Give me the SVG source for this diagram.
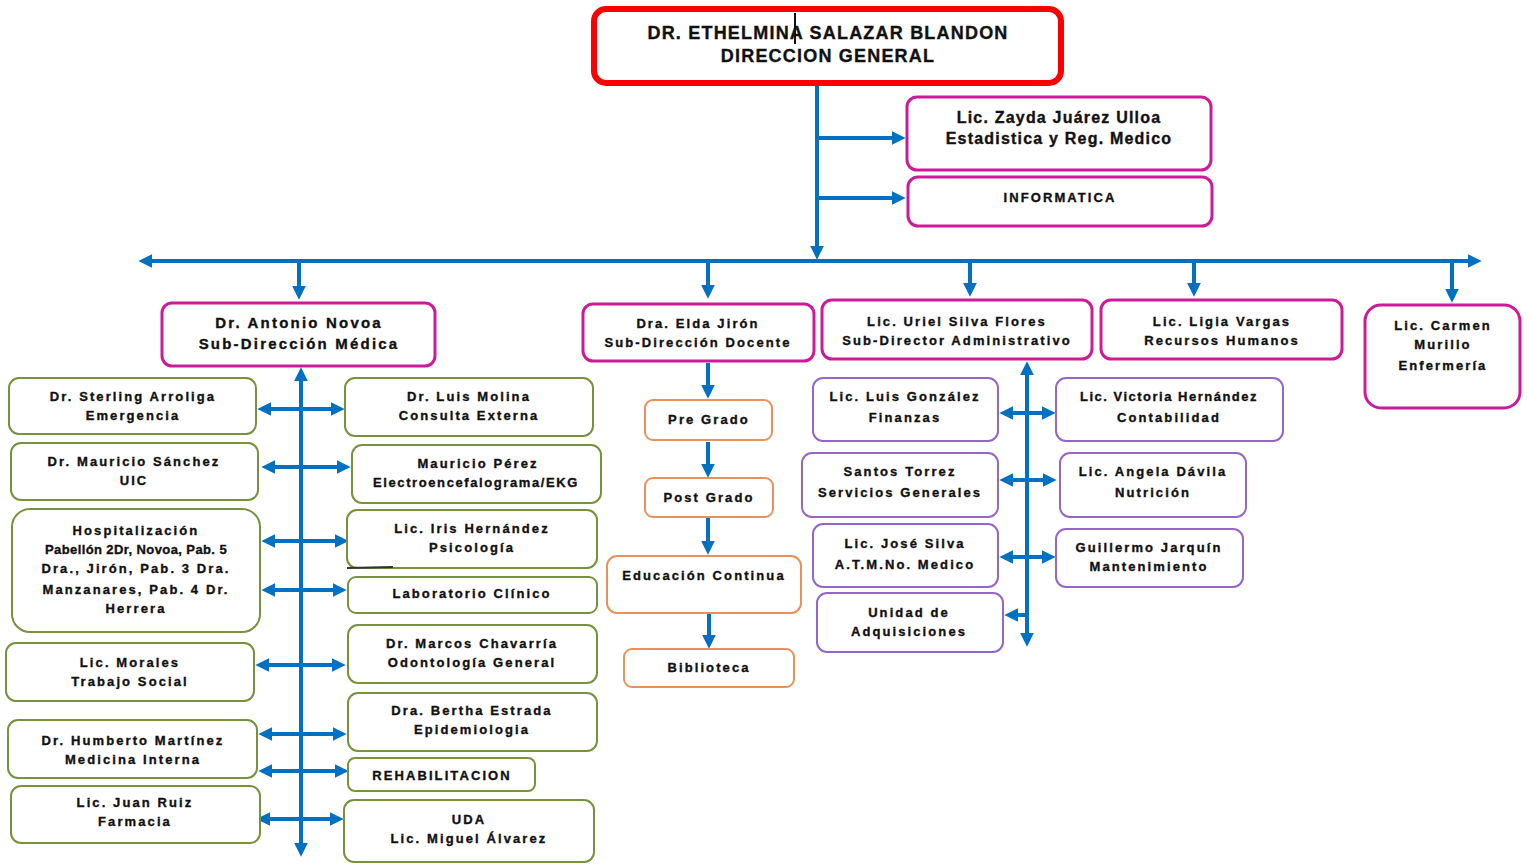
<svg xmlns="http://www.w3.org/2000/svg" width="1529" height="865" viewBox="0 0 1529 865">
<defs>
<marker id="ah" viewBox="0 0 12 12" refX="8" refY="6" markerWidth="14" markerHeight="15" markerUnits="userSpaceOnUse" orient="auto-start-reverse"><path d="M0,0 L12,6 L0,12 z" fill="#0070C0"/></marker>
<style>
text{font-family:"Liberation Sans",Arial,sans-serif;font-weight:bold;fill:#111;stroke:#111;stroke-width:0.35px;text-anchor:middle;dominant-baseline:central}
.t0{font-size:18px;letter-spacing:1.2px}
.t1{font-size:16px;letter-spacing:1.2px}
.t2{font-size:15px;letter-spacing:2.2px}
.t3{font-size:13px;letter-spacing:2.1px}
.red{fill:#fff;stroke:#FF0000;stroke-width:6}
.mag{fill:#fff;stroke:#CC1A99;stroke-width:3}
.olv{fill:#fff;stroke:#76923C;stroke-width:2}
.org{fill:#fff;stroke:#E8915A;stroke-width:2}
.pur{fill:#fff;stroke:#9466C8;stroke-width:2}
.c{stroke:#0070C0;stroke-width:4;fill:none}
.e{marker-end:url(#ah)}
.s{marker-start:url(#ah)}
</style>
</defs>
<rect width="1529" height="865" fill="#fff"/>
<g id="connectors">
<line class="c e" x1="817" y1="85" x2="817" y2="255"/>
<line class="c s e" x1="143" y1="261" x2="1477" y2="261"/>
<line class="c e" x1="819" y1="138" x2="901" y2="138"/>
<line class="c e" x1="819" y1="198" x2="901" y2="198"/>
<line class="c e" x1="299" y1="261" x2="299" y2="295"/>
<line class="c e" x1="708" y1="261" x2="708" y2="294"/>
<line class="c e" x1="970" y1="261" x2="970" y2="292"/>
<line class="c e" x1="1194" y1="261" x2="1194" y2="292"/>
<line class="c e" x1="1452" y1="261" x2="1452" y2="298"/>
<line class="c s e" x1="301" y1="372" x2="301" y2="852"/>
<line class="c s e" x1="262" y1="409" x2="340" y2="409"/>
<line class="c s e" x1="266" y1="467" x2="346" y2="467"/>
<line class="c s e" x1="266" y1="541" x2="344" y2="541"/>
<line class="c s e" x1="266" y1="590" x2="342" y2="590"/>
<line class="c s e" x1="260" y1="665" x2="341" y2="665"/>
<line class="c s e" x1="263" y1="734" x2="342" y2="734"/>
<line class="c s e" x1="263" y1="771" x2="344" y2="771"/>
<line class="c s e" x1="261" y1="819" x2="339" y2="819"/>
<line class="c e" x1="708" y1="363" x2="708" y2="394"/>
<line class="c e" x1="708" y1="442" x2="708" y2="473"/>
<line class="c e" x1="708" y1="518" x2="708" y2="550"/>
<line class="c e" x1="709" y1="614" x2="709" y2="644"/>
<line class="c s e" x1="1027" y1="366" x2="1027" y2="642"/>
<line class="c s e" x1="1004" y1="413" x2="1051" y2="413"/>
<line class="c s e" x1="1004" y1="480" x2="1052" y2="480"/>
<line class="c s e" x1="1004" y1="557" x2="1051" y2="557"/>
<line class="c e" x1="1027" y1="615" x2="1009" y2="615"/>
</g>
<g id="direccion-general"><rect class="red" x="594" y="9" width="467" height="74" rx="12"/>
<text class="t0" x="828" y="33">DR. ETHELMINA SALAZAR BLANDON</text><text class="t0" x="828" y="56">DIRECCION GENERAL</text>
<line x1="795" y1="13" x2="795" y2="44" stroke="#111" stroke-width="2"/></g>
<g id="estadistica"><rect class="mag" x="907" y="97" width="304" height="73" rx="10"/><text class="t1" x="1059" y="117">Lic. Zayda Juárez Ulloa</text><text class="t1" x="1059" y="138">Estadistica y Reg. Medico</text></g>
<g id="informatica"><rect class="mag" x="908" y="177" width="304" height="49" rx="10"/><text class="t3" x="1060" y="197">INFORMATICA</text></g>
<g id="sub-medica"><rect class="mag" x="162" y="303" width="273" height="63" rx="10"/><text class="t2" x="299" y="322">Dr.  Antonio Novoa</text><text class="t2" x="299" y="343">Sub-Dirección Médica</text></g>
<g id="sub-docente"><rect class="mag" x="583" y="304" width="231" height="57" rx="10"/><text class="t3" x="698" y="323">Dra. Elda Jirón</text><text class="t3" x="698" y="342">Sub-Dirección Docente</text></g>
<g id="sub-admin"><rect class="mag" x="822" y="300" width="270" height="59" rx="10"/><text class="t3" x="957" y="321">Lic. Uriel Silva Flores</text><text class="t3" x="957" y="340">Sub-Director Administrativo</text></g>
<g id="rrhh"><rect class="mag" x="1101" y="300" width="241" height="59" rx="10"/><text class="t3" x="1222" y="321">Lic. Ligia Vargas</text><text class="t3" x="1222" y="340">Recursos Humanos</text></g>
<g id="enfermeria"><rect class="mag" x="1365" y="305" width="155" height="103" rx="16"/><text class="t3" x="1443" y="325">Lic. Carmen</text><text class="t3" x="1443" y="344">Murillo</text><text class="t3" x="1443" y="365">Enfermería</text></g>
<g id="emergencia"><rect class="olv" x="9" y="378" width="247" height="56" rx="10"/><text class="t3" x="133" y="396">Dr. Sterling Arroliga</text><text class="t3" x="133" y="415">Emergencia</text></g>
<g id="uic"><rect class="olv" x="11" y="443" width="247" height="57" rx="10"/><text class="t3" x="134" y="461">Dr. Mauricio Sánchez</text><text class="t3" x="134" y="480">UIC</text></g>
<g id="hospitalizacion"><rect class="olv" x="12" y="509" width="248" height="123" rx="18"/><text class="t3" x="136" y="530">Hospitalización</text><text class="t3" x="136" y="549" style="letter-spacing:0.4px">Pabellón 2Dr, Novoa, Pab. 5</text><text class="t3" x="136" y="568">Dra., Jirón, Pab. 3 Dra.</text><text class="t3" x="136" y="589">Manzanares, Pab. 4 Dr.</text><text class="t3" x="136" y="608">Herrera</text></g>
<g id="trabajo-social"><rect class="olv" x="6" y="643" width="248" height="58" rx="10"/><text class="t3" x="130" y="662">Lic. Morales</text><text class="t3" x="130" y="681">Trabajo Social</text></g>
<g id="medicina-interna"><rect class="olv" x="8" y="720" width="249" height="58" rx="10"/><text class="t3" x="133" y="740">Dr. Humberto Martínez</text><text class="t3" x="133" y="759">Medicina Interna</text></g>
<g id="farmacia"><rect class="olv" x="11" y="786" width="249" height="57" rx="10"/><text class="t3" x="135" y="802">Lic. Juan Ruiz</text><text class="t3" x="135" y="821">Farmacia</text></g>
<g id="consulta-externa"><rect class="olv" x="345" y="378" width="248" height="58" rx="10"/><text class="t3" x="469" y="396">Dr. Luis Molina</text><text class="t3" x="469" y="415">Consulta Externa</text></g>
<g id="ekg"><rect class="olv" x="352" y="445" width="249" height="58" rx="10"/><text class="t3" x="478" y="463">Mauricio Pérez</text><text class="t3" x="476" y="482" style="letter-spacing:1.6px">Electroencefalograma/EKG</text></g>
<g id="psicologia"><rect class="olv" x="347" y="510" width="250" height="58" rx="10"/><text class="t3" x="472" y="528">Lic. Iris Hernández</text><text class="t3" x="472" y="547">Psicología</text>
<line x1="347" y1="568" x2="393" y2="567" stroke="#333" stroke-width="2"/></g>
<g id="laboratorio"><rect class="olv" x="348" y="577" width="249" height="36" rx="8"/><text class="t3" x="472" y="593">Laboratorio Clínico</text></g>
<g id="odontologia"><rect class="olv" x="348" y="625" width="249" height="58" rx="10"/><text class="t3" x="472" y="643">Dr. Marcos Chavarría</text><text class="t3" x="472" y="662">Odontología General</text></g>
<g id="epidemiologia"><rect class="olv" x="348" y="693" width="249" height="58" rx="10"/><text class="t3" x="472" y="710">Dra. Bertha Estrada</text><text class="t3" x="472" y="729">Epidemiologia</text></g>
<g id="rehabilitacion"><rect class="olv" x="348" y="758" width="187" height="33" rx="7"/><text class="t3" x="442" y="775">REHABILITACION</text></g>
<g id="uda"><rect class="olv" x="344" y="800" width="250" height="62" rx="10"/><text class="t3" x="469" y="819">UDA</text><text class="t3" x="469" y="838">Lic. Miguel Álvarez</text></g>
<g id="pre-grado"><rect class="org" x="645" y="400" width="127" height="40" rx="8"/><text class="t3" x="709" y="419">Pre Grado</text></g>
<g id="post-grado"><rect class="org" x="645" y="478" width="128" height="39" rx="8"/><text class="t3" x="709" y="497">Post Grado</text></g>
<g id="educacion-continua"><rect class="org" x="607" y="556" width="194" height="57" rx="10"/><text class="t3" x="704" y="575">Educación Continua</text></g>
<g id="biblioteca"><rect class="org" x="624" y="649" width="170" height="38" rx="8"/><text class="t3" x="709" y="667">Biblioteca</text></g>
<g id="finanzas"><rect class="pur" x="813" y="378" width="185" height="63" rx="10"/><text class="t3" x="905" y="396">Lic. Luis González</text><text class="t3" x="905" y="417">Finanzas</text></g>
<g id="servicios-generales"><rect class="pur" x="802" y="453" width="196" height="64" rx="10"/><text class="t3" x="900" y="471">Santos  Torrez</text><text class="t3" x="900" y="492">Servicios Generales</text></g>
<g id="atm"><rect class="pur" x="813" y="524" width="185" height="63" rx="10"/><text class="t3" x="905" y="543">Lic. José Silva</text><text class="t3" x="905" y="564">A.T.M.No. Medico</text></g>
<g id="adquisiciones"><rect class="pur" x="817" y="593" width="186" height="59" rx="10"/><text class="t3" x="909" y="612">Unidad de</text><text class="t3" x="909" y="631">Adquisiciones</text></g>
<g id="contabilidad"><rect class="pur" x="1056" y="378" width="227" height="63" rx="10"/><text class="t3" x="1169" y="396" style="letter-spacing:1.5px">Lic. Victoria Hernández</text><text class="t3" x="1169" y="417">Contabilidad</text></g>
<g id="nutricion"><rect class="pur" x="1060" y="453" width="186" height="64" rx="10"/><text class="t3" x="1153" y="471">Lic. Angela Dávila</text><text class="t3" x="1153" y="492">Nutrición</text></g>
<g id="mantenimiento"><rect class="pur" x="1056" y="529" width="187" height="58" rx="10"/><text class="t3" x="1149" y="547">Guillermo Jarquín</text><text class="t3" x="1149" y="566">Mantenimiento</text></g>
</svg>
